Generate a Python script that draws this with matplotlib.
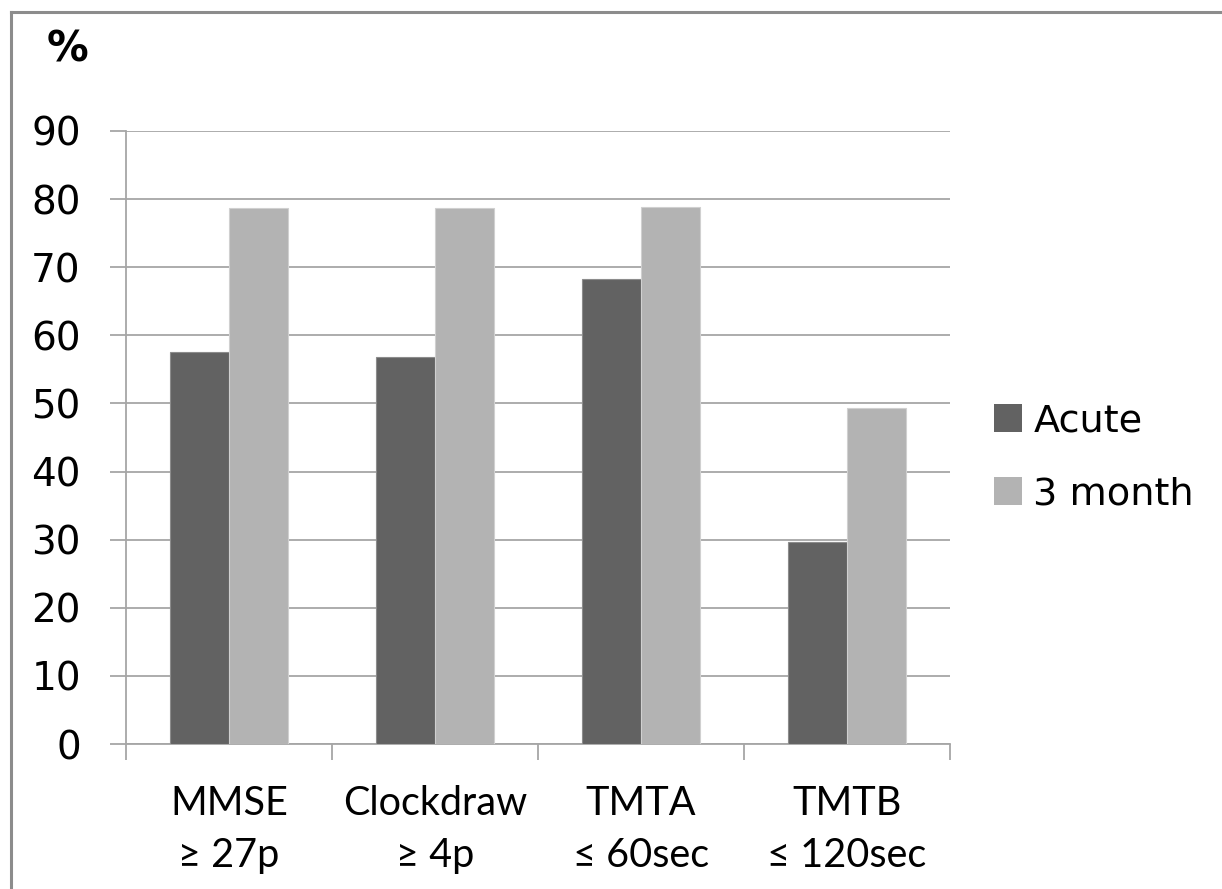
import matplotlib
matplotlib.use("Agg")
import matplotlib.pyplot as plt
import numpy as np
from matplotlib.lines import Line2D

categories = ["MMSE\n≥ 27p", "Clockdraw\n≥ 4p", "TMTA\n≤ 60sec", "TMTB\n≤ 120sec"]
acute = [57.6, 56.8, 68.3, 29.6]
month3 = [78.7, 78.7, 78.8, 49.3]
series_names = ["Acute", "3 month"]
yticks = [0, 10, 20, 30, 40, 50, 60, 70, 80, 90]

W, H = 1222, 889
fig = plt.figure(figsize=(W / 100, H / 100), dpi=100)
ax = fig.add_axes([126 / W, 1 - 744 / H, (950 - 126) / W, (744 - 131) / H])

x = np.arange(len(categories))
bw = 0.287
ax.bar(x - bw / 2, acute, bw, color="#626262", edgecolor="#8c8c8c", linewidth=0.8, label=series_names[0], zorder=3)
ax.bar(x + bw / 2, month3, bw, color="#b3b3b3", edgecolor="#d0d0d0", linewidth=0.8, label=series_names[1], zorder=3)

ax.set_xlim(-0.5, len(categories) - 0.5)
ax.set_ylim(0, 90)
ax.set_yticks(yticks)
ax.set_yticklabels([str(v) for v in yticks], fontsize=28, family="DejaVu Sans")
ax.yaxis.grid(True, color="#a6a6a6", linewidth=1.3, zorder=0)
ax.set_axisbelow(True)

for s in ["top", "right"]:
    ax.spines[s].set_visible(False)
for s in ["left", "bottom"]:
    ax.spines[s].set_color("#a6a6a6")
    ax.spines[s].set_linewidth(1.3)

ax.tick_params(axis="y", length=11.5, color="#a6a6a6", width=1.3, pad=21)
ax.set_xticks(np.arange(len(categories) + 1) - 0.5)
ax.set_xticklabels([])
ax.tick_params(axis="x", length=11.5, color="#a6a6a6", width=1.3)
for i, c in enumerate(categories):
    ax.text(i, -6.0, c, ha="center", va="top", fontsize=28.5, family=["Lato", "DejaVu Sans"],
            linespacing=1.5, transform=ax.transData)

fig.text(68 / W, 1 - 50 / H, "%", fontsize=30, fontweight="bold", ha="center", va="center", family="DejaVu Sans")

leg = ax.legend(loc="center left", bbox_to_anchor=(994 / W, 1 - 458 / H), bbox_transform=fig.transFigure,
                frameon=False, prop={"family": "DejaVu Sans", "size": 27.5}, handlelength=0.73, handleheight=0.73,
                handletextpad=0.3, labelspacing=0.97, borderpad=0, borderaxespad=0)
for h in leg.legend_handles:
    h.set_edgecolor("none")

# figure border (top and left)
fig.add_artist(Line2D([10.5 / W, 10.5 / W], [0, 1 - 11.5 / H], transform=fig.transFigure, color="#8c8c8c", linewidth=2.2))
fig.add_artist(Line2D([10.5 / W, 1], [1 - 11.5 / H, 1 - 11.5 / H], transform=fig.transFigure, color="#8c8c8c", linewidth=2.2))

fig.savefig("out.png", dpi=100)
